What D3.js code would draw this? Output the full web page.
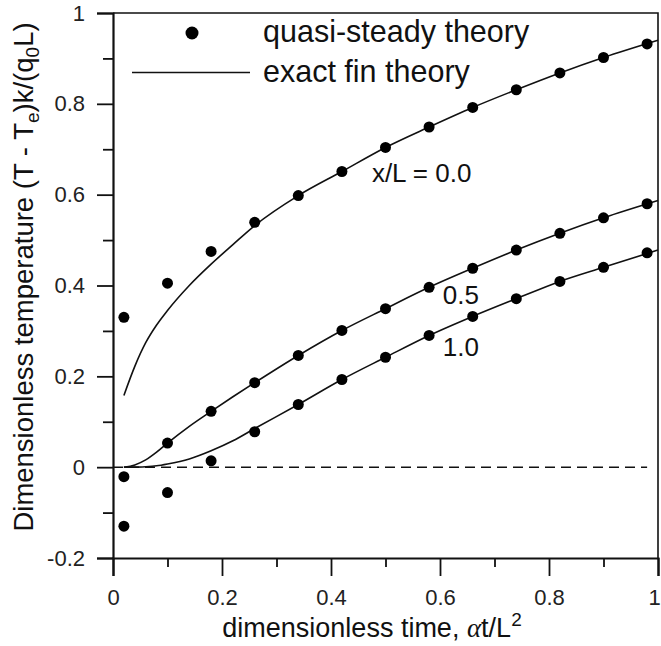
<!DOCTYPE html>
<html>
<head>
<meta charset="utf-8">
<script src="https://cdn.jsdelivr.net/npm/d3@7"></script>
<style>
  body { margin: 0; background: #fff; }
  text { font-family: "Liberation Sans", Arial, sans-serif; }
</style>
</head>
<body>
<div id="chart"></div>
<script>
// dimensionless time of the quasi-steady points
let times = [0.02, 0.10, 0.18, 0.26, 0.34, 0.42, 0.50, 0.58, 0.66, 0.74, 0.82, 0.90, 0.98];
let quasi00 = [0.330, 0.405, 0.475, 0.539, 0.598, 0.651, 0.704, 0.749, 0.792, 0.831, 0.868, 0.902, 0.932];
let quasi05 = [-0.021, 0.053, 0.123, 0.186, 0.246, 0.301, 0.349, 0.396, 0.438, 0.478, 0.515, 0.549, 0.580];
let quasi10 = [-0.130, -0.056, 0.014, 0.078, 0.138, 0.193, 0.242, 0.290, 0.332, 0.371, 0.409, 0.440, 0.472];

// exact fin theory
let exactTimes = [0.02, 0.04, 0.06, 0.08, 0.10, 0.14, 0.18, 0.22, 0.26, 0.34, 0.42, 0.50, 0.58, 0.66, 0.74, 0.82, 0.90, 1.0];
let exact00 = [0.158, 0.222, 0.274, 0.313, 0.345, 0.400, 0.447, 0.490, 0.532, 0.598, 0.651, 0.704, 0.749, 0.792, 0.831, 0.868, 0.902, 0.940];
let exact05 = [0.000, 0.005, 0.016, 0.033, 0.053, 0.090, 0.123, 0.155, 0.186, 0.246, 0.301, 0.349, 0.396, 0.438, 0.478, 0.515, 0.549, 0.587];
let exact10 = [0.000, 0.000, 0.001, 0.003, 0.007, 0.018, 0.036, 0.058, 0.085, 0.138, 0.193, 0.242, 0.290, 0.332, 0.371, 0.409, 0.440, 0.478];

let curveLabels = ["x/L = 0.0", "0.5", "1.0"];
let curveLabelPos = [[0.475, 0.628], [0.605, 0.360], [0.605, 0.244]];
let xTicks = [0, 0.2, 0.4, 0.6, 0.8, 1];
let yTicks = [-0.2, 0, 0.2, 0.4, 0.6, 0.8, 1];

let width = 661, height = 646,
    margin = { top: 13, left: 113, right: 3, bottom: 88 };

let svg = d3.select("#chart")
  .append("svg")
  .attr("width", width)
  .attr("height", height)
  .style("background-color", "#fff");

let x = d3.scaleLinear().domain([0, 1]).range([margin.left, width - margin.right]);
let y = d3.scaleLinear().domain([-0.2, 1]).range([height - margin.bottom, margin.top]);

// frame: top + right thin lines
svg.append("path")
  .attr("d", `M${x(0)},${y(1)}H${x(1)}V${y(-0.2)}`)
  .attr("fill", "none")
  .attr("stroke", "#111")
  .attr("stroke-width", 1.6);

// y axis, outward ticks (major + minor)
svg.append("g")
  .attr("transform", `translate(${x(0)},0)`)
  .call(d3.axisLeft(y).tickValues(yTicks).tickSize(16).tickPadding(12).tickFormat(d => String(d)));
svg.append("g")
  .attr("transform", `translate(${x(0)},0)`)
  .call(d3.axisLeft(y).tickValues(d3.range(-0.1, 1, 0.2)).tickSize(10).tickFormat(""))
  .call(g => g.select(".domain").remove());

svg.append("g")
  .attr("transform", `translate(0,${y(-0.2)})`)
  .call(d3.axisBottom(x).tickValues(xTicks).tickSize(18).tickPadding(13).tickFormat(d => String(d)))
  .call(g => g.selectAll(".tick text").filter(d => d === 1).attr("dx", -4));
svg.append("g")
  .attr("transform", `translate(0,${y(-0.2)})`)
  .call(d3.axisBottom(x).tickValues(d3.range(0.1, 1, 0.2)).tickSize(9).tickFormat(""))
  .call(g => g.select(".domain").remove());

svg.selectAll(".domain").attr("stroke", "#111").attr("stroke-width", 2.2);
svg.selectAll(".tick line").attr("stroke", "#111").attr("stroke-width", 1.8);
svg.selectAll(".tick text")
  .attr("font-size", 22)
  .attr("fill", "#222")
  .style("font-family", "'Liberation Sans', Arial, sans-serif");

// zero line
svg.append("line")
  .attr("x1", x(0)).attr("x2", x(0.98))
  .attr("y1", y(0)).attr("y2", y(0))
  .attr("stroke", "#111")
  .attr("stroke-width", 1.5)
  .attr("stroke-dasharray", "10,6");

let line = d3.line()
  .x((d, i) => x(exactTimes[i]))
  .y(d => y(d))
  .curve(d3.curveMonotoneX);

svg.append("g")
  .attr("fill", "none")
  .attr("stroke", "#111")
  .attr("stroke-width", 1.6)
  .selectAll("path")
  .data([exact00, exact05, exact10])
  .join("path")
    .attr("d", line);

let points = [quasi00, quasi05, quasi10].flatMap(series => series.map((v, i) => [times[i], v]));

svg.append("g")
  .selectAll("circle")
  .data(points)
  .join("circle")
    .attr("cx", d => x(d[0]))
    .attr("cy", d => y(d[1]))
    .attr("r", 5.5)
    .attr("fill", "#000");

// curve labels
svg.append("g")
  .selectAll("text")
  .data(curveLabels)
  .join("text")
    .attr("x", (d, i) => x(curveLabelPos[i][0]))
    .attr("y", (d, i) => y(curveLabelPos[i][1]))
    .attr("font-size", 26)
    .attr("fill", "#111")
    .text(d => d);

// legend
svg.append("circle")
  .attr("cx", 192).attr("cy", 33).attr("r", 6.5).attr("fill", "#000");
svg.append("line")
  .attr("x1", 132).attr("x2", 250).attr("y1", 72.5).attr("y2", 72.5)
  .attr("stroke", "#111").attr("stroke-width", 1.6);
svg.append("text")
  .attr("x", 263).attr("y", 42).attr("font-size", 30.5).attr("fill", "#111")
  .text("quasi-steady theory");
svg.append("text")
  .attr("x", 263).attr("y", 82).attr("font-size", 30.5).attr("fill", "#111")
  .text("exact fin theory");

// x title
let xt = svg.append("text")
  .attr("x", 372).attr("y", 637)
  .attr("text-anchor", "middle")
  .attr("font-size", 27)
  .attr("fill", "#111");
xt.append("tspan").text("dimensionless time, ");
xt.append("tspan").style("font-family", "'Liberation Serif', serif").attr("font-style", "italic").text("α");
xt.append("tspan").text("t/L");
xt.append("tspan").attr("dy", -11).attr("font-size", 19).text("2");

// y title
let yt = svg.append("text")
  .attr("transform", "translate(33,277) rotate(-90)")
  .attr("text-anchor", "middle")
  .attr("font-size", 27.5)
  .attr("fill", "#111");
yt.append("tspan").text("Dimensionless temperature (T - T");
yt.append("tspan").attr("dy", 6).attr("font-size", 19).text("e");
yt.append("tspan").attr("dy", -6).text(")k/(q");
yt.append("tspan").attr("dy", 6).attr("font-size", 19).text("0");
yt.append("tspan").attr("dy", -6).text("L)");
</script>
</body>
</html>
